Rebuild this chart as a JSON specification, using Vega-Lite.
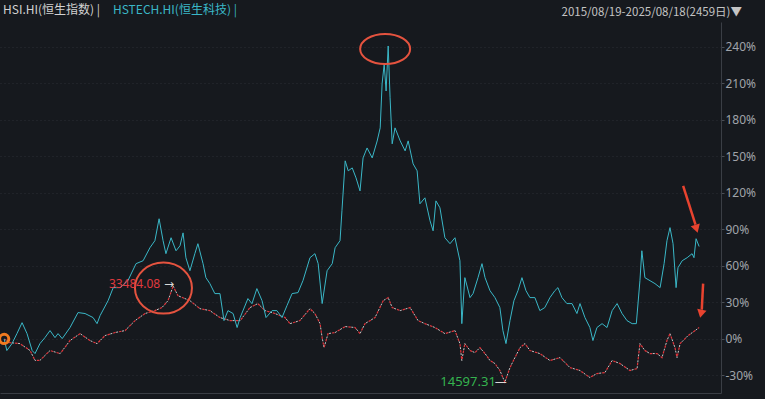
{
  "$schema": "https://vega.github.io/schema/vega-lite/v6.json",
  "width": 721,
  "height": 371,
  "autosize": {"type": "none"},
  "padding": {"left": 0, "top": 22, "right": 44, "bottom": 6},
  "background": "#16191e",
  "config": {"view": {"stroke": null}, "font": "Noto Sans CJK SC"},
  "title": {"text": "2015/08/19-2025/08/18(2459日)▼", "anchor": "end", "frame": "group", "color": "#c4c4c4", "fontSize": 11.5, "fontWeight": "normal", "font": "Noto Sans CJK SC", "dx": 21, "offset": 0, "dy": 14},
  "data": {"values": [
    {"date":"2015-08-19","series":"HSI","pct":0},{"date":"2015-09-18","series":"HSI","pct":-3.0},{"date":"2015-11-10","series":"HSI","pct":-3.8},{"date":"2016-01-02","series":"HSI","pct":-9.5},{"date":"2016-01-28","series":"HSI","pct":-17.6},{"date":"2016-02-23","series":"HSI","pct":-17.6},{"date":"2016-04-16","series":"HSI","pct":-9.5},{"date":"2016-06-08","series":"HSI","pct":-12.0},{"date":"2016-07-30","series":"HSI","pct":-1.3},{"date":"2016-09-21","series":"HSI","pct":4.4},{"date":"2016-11-12","series":"HSI","pct":-1.3},{"date":"2016-12-19","series":"HSI","pct":-3.8},{"date":"2017-01-30","series":"HSI","pct":2.8},{"date":"2017-03-24","series":"HSI","pct":5.3},{"date":"2017-05-15","series":"HSI","pct":6.9},{"date":"2017-07-07","series":"HSI","pct":15.1},{"date":"2017-08-28","series":"HSI","pct":20.9},{"date":"2017-10-19","series":"HSI","pct":23.3},{"date":"2017-11-25","series":"HSI","pct":25.8},{"date":"2017-12-27","series":"HSI","pct":31.5},{"date":"2018-01-23","series":"HSI","pct":43.5},{"date":"2018-02-17","series":"HSI","pct":35.6},{"date":"2018-04-21","series":"HSI","pct":31.5},{"date":"2018-06-13","series":"HSI","pct":24.9},{"date":"2018-08-04","series":"HSI","pct":23.3},{"date":"2018-09-26","series":"HSI","pct":17.6},{"date":"2018-11-18","series":"HSI","pct":15.1},{"date":"2019-01-10","series":"HSI","pct":15.1},{"date":"2019-03-03","series":"HSI","pct":25.8},{"date":"2019-04-13","series":"HSI","pct":29.1},{"date":"2019-05-21","series":"HSI","pct":23.3},{"date":"2019-07-12","series":"HSI","pct":20.9},{"date":"2019-09-03","series":"HSI","pct":17.6},{"date":"2019-09-29","series":"HSI","pct":12.6},{"date":"2019-11-20","series":"HSI","pct":15.1},{"date":"2020-01-12","series":"HSI","pct":24.9},{"date":"2020-02-07","series":"HSI","pct":20.9},{"date":"2020-03-05","series":"HSI","pct":12.6},{"date":"2020-03-16","series":"HSI","pct":1.1},{"date":"2020-03-26","series":"HSI","pct":-7.1},{"date":"2020-04-16","series":"HSI","pct":4.4},{"date":"2020-05-23","series":"HSI","pct":5.3},{"date":"2020-07-15","series":"HSI","pct":10.2},{"date":"2020-09-05","series":"HSI","pct":9.4},{"date":"2020-10-01","series":"HSI","pct":4.4},{"date":"2020-10-27","series":"HSI","pct":12.6},{"date":"2020-12-19","series":"HSI","pct":17.6},{"date":"2021-01-31","series":"HSI","pct":31.5},{"date":"2021-02-26","series":"HSI","pct":34.0},{"date":"2021-03-19","series":"HSI","pct":25.8},{"date":"2021-04-30","series":"HSI","pct":23.3},{"date":"2021-06-21","series":"HSI","pct":25.8},{"date":"2021-08-02","series":"HSI","pct":15.1},{"date":"2021-09-07","series":"HSI","pct":12.6},{"date":"2021-10-30","series":"HSI","pct":9.4},{"date":"2021-12-21","series":"HSI","pct":4.4},{"date":"2022-02-12","series":"HSI","pct":6.9},{"date":"2022-03-10","series":"HSI","pct":-3.8},{"date":"2022-03-20","series":"HSI","pct":-17.7},{"date":"2022-04-05","series":"HSI","pct":-3.8},{"date":"2022-05-02","series":"HSI","pct":-9.5},{"date":"2022-05-28","series":"HSI","pct":-11.2},{"date":"2022-06-23","series":"HSI","pct":-7.1},{"date":"2022-07-20","series":"HSI","pct":-12.0},{"date":"2022-08-15","series":"HSI","pct":-17.7},{"date":"2022-09-10","series":"HSI","pct":-20.2},{"date":"2022-10-06","series":"HSI","pct":-25.9},{"date":"2022-11-01","series":"HSI","pct":-35.5},{"date":"2022-11-28","series":"HSI","pct":-23.5},{"date":"2022-12-24","series":"HSI","pct":-15.3},{"date":"2023-01-20","series":"HSI","pct":-7.1},{"date":"2023-02-15","series":"HSI","pct":-3.8},{"date":"2023-03-13","series":"HSI","pct":-9.5},{"date":"2023-05-04","series":"HSI","pct":-12.0},{"date":"2023-06-26","series":"HSI","pct":-17.7},{"date":"2023-08-18","series":"HSI","pct":-15.3},{"date":"2023-10-09","series":"HSI","pct":-23.5},{"date":"2023-12-01","series":"HSI","pct":-25.9},{"date":"2024-01-22","series":"HSI","pct":-31.7},{"date":"2024-02-28","series":"HSI","pct":-28.4},{"date":"2024-04-10","series":"HSI","pct":-27.6},{"date":"2024-05-18","series":"HSI","pct":-17.7},{"date":"2024-06-28","series":"HSI","pct":-20.2},{"date":"2024-08-20","series":"HSI","pct":-25.9},{"date":"2024-09-26","series":"HSI","pct":-24.3},{"date":"2024-10-11","series":"HSI","pct":-3.8},{"date":"2024-11-06","series":"HSI","pct":-9.5},{"date":"2024-12-03","series":"HSI","pct":-12.0},{"date":"2025-01-09","series":"HSI","pct":-12.0},{"date":"2025-02-04","series":"HSI","pct":-15.3},{"date":"2025-03-02","series":"HSI","pct":-1.3},{"date":"2025-03-18","series":"HSI","pct":4.4},{"date":"2025-04-13","series":"HSI","pct":-7.1},{"date":"2025-04-24","series":"HSI","pct":-15.3},{"date":"2025-05-10","series":"HSI","pct":-3.8},{"date":"2025-06-21","series":"HSI","pct":2.8},{"date":"2025-07-28","series":"HSI","pct":6.9},{"date":"2025-08-18","series":"HSI","pct":9.4},
    {"date":"2015-08-19","series":"HSTECH","pct":0},{"date":"2015-09-02","series":"HSTECH","pct":-9.5},{"date":"2015-09-29","series":"HSTECH","pct":-3.8},{"date":"2015-10-25","series":"HSTECH","pct":4.4},{"date":"2015-11-21","series":"HSTECH","pct":13.4},{"date":"2015-12-17","series":"HSTECH","pct":4.4},{"date":"2016-01-13","series":"HSTECH","pct":-9.5},{"date":"2016-01-28","series":"HSTECH","pct":-12.0},{"date":"2016-02-23","series":"HSTECH","pct":-3.8},{"date":"2016-03-20","series":"HSTECH","pct":1.1},{"date":"2016-04-16","series":"HSTECH","pct":6.9},{"date":"2016-05-12","series":"HSTECH","pct":1.1},{"date":"2016-05-28","series":"HSTECH","pct":4.4},{"date":"2016-06-19","series":"HSTECH","pct":0.3},{"date":"2016-07-30","series":"HSTECH","pct":9.4},{"date":"2016-09-10","series":"HSTECH","pct":21.7},{"date":"2016-10-17","series":"HSTECH","pct":20.9},{"date":"2016-11-28","series":"HSTECH","pct":17.6},{"date":"2016-12-19","series":"HSTECH","pct":12.6},{"date":"2017-01-04","series":"HSTECH","pct":19.2},{"date":"2017-02-15","series":"HSTECH","pct":31.5},{"date":"2017-03-14","series":"HSTECH","pct":42.2},{"date":"2017-04-19","series":"HSTECH","pct":42.2},{"date":"2017-05-30","series":"HSTECH","pct":47.9},{"date":"2017-07-12","series":"HSTECH","pct":61.9},{"date":"2017-08-18","series":"HSTECH","pct":64.3},{"date":"2017-09-23","series":"HSTECH","pct":75.0},{"date":"2017-10-19","series":"HSTECH","pct":80.8},{"date":"2017-11-10","series":"HSTECH","pct":98.8},{"date":"2017-12-01","series":"HSTECH","pct":80.8},{"date":"2017-12-16","series":"HSTECH","pct":70.1},{"date":"2018-01-12","series":"HSTECH","pct":83.2},{"date":"2018-02-07","series":"HSTECH","pct":72.5},{"date":"2018-02-28","series":"HSTECH","pct":76.6},{"date":"2018-03-16","series":"HSTECH","pct":87.2},{"date":"2018-03-31","series":"HSTECH","pct":66.7},{"date":"2018-04-21","series":"HSTECH","pct":56.1},{"date":"2018-05-17","series":"HSTECH","pct":70.1},{"date":"2018-06-02","series":"HSTECH","pct":78.3},{"date":"2018-06-29","series":"HSTECH","pct":61.9},{"date":"2018-07-14","series":"HSTECH","pct":50.4},{"date":"2018-08-04","series":"HSTECH","pct":45.5},{"date":"2018-08-30","series":"HSTECH","pct":37.3},{"date":"2018-09-26","series":"HSTECH","pct":37.3},{"date":"2018-10-17","series":"HSTECH","pct":15.1},{"date":"2018-11-07","series":"HSTECH","pct":23.3},{"date":"2018-12-04","series":"HSTECH","pct":20.9},{"date":"2018-12-25","series":"HSTECH","pct":9.4},{"date":"2019-01-10","series":"HSTECH","pct":17.6},{"date":"2019-02-20","series":"HSTECH","pct":33.2},{"date":"2019-03-13","series":"HSTECH","pct":29.0},{"date":"2019-04-08","series":"HSTECH","pct":41.4},{"date":"2019-05-05","series":"HSTECH","pct":31.5},{"date":"2019-05-26","series":"HSTECH","pct":17.6},{"date":"2019-06-27","series":"HSTECH","pct":23.3},{"date":"2019-07-22","series":"HSTECH","pct":23.3},{"date":"2019-08-18","series":"HSTECH","pct":17.6},{"date":"2019-09-13","series":"HSTECH","pct":27.4},{"date":"2019-10-10","series":"HSTECH","pct":37.3},{"date":"2019-11-10","series":"HSTECH","pct":38.1},{"date":"2019-12-06","series":"HSTECH","pct":47.9},{"date":"2020-01-12","series":"HSTECH","pct":66.8},{"date":"2020-02-07","series":"HSTECH","pct":70.1},{"date":"2020-02-24","series":"HSTECH","pct":61.9},{"date":"2020-03-16","series":"HSTECH","pct":29.1},{"date":"2020-04-11","series":"HSTECH","pct":56.1},{"date":"2020-05-08","series":"HSTECH","pct":61.9},{"date":"2020-05-23","series":"HSTECH","pct":75.0},{"date":"2020-06-18","series":"HSTECH","pct":80.8},{"date":"2020-06-28","series":"HSTECH","pct":105.4},{"date":"2020-07-15","series":"HSTECH","pct":146.4},{"date":"2020-07-31","series":"HSTECH","pct":138.2},{"date":"2020-08-21","series":"HSTECH","pct":140.6},{"date":"2020-09-10","series":"HSTECH","pct":132.4},{"date":"2020-10-01","series":"HSTECH","pct":121.7},{"date":"2020-10-17","series":"HSTECH","pct":148.8},{"date":"2020-11-07","series":"HSTECH","pct":157.0},{"date":"2020-12-04","series":"HSTECH","pct":148.8},{"date":"2020-12-30","series":"HSTECH","pct":162.7},{"date":"2021-01-15","series":"HSTECH","pct":173.5},{"date":"2021-01-25","series":"HSTECH","pct":209.6},{"date":"2021-02-05","series":"HSTECH","pct":226.0},{"date":"2021-02-15","series":"HSTECH","pct":203.8},{"date":"2021-02-26","series":"HSTECH","pct":240.8},{"date":"2021-03-08","series":"HSTECH","pct":198.2},{"date":"2021-03-19","series":"HSTECH","pct":160.4},{"date":"2021-04-03","series":"HSTECH","pct":173.5},{"date":"2021-04-30","series":"HSTECH","pct":162.8},{"date":"2021-05-26","series":"HSTECH","pct":154.6},{"date":"2021-06-11","series":"HSTECH","pct":162.8},{"date":"2021-07-07","series":"HSTECH","pct":143.9},{"date":"2021-07-28","series":"HSTECH","pct":138.2},{"date":"2021-08-12","series":"HSTECH","pct":111.1},{"date":"2021-09-07","series":"HSTECH","pct":116.0},{"date":"2021-10-04","series":"HSTECH","pct":97.1},{"date":"2021-10-20","series":"HSTECH","pct":88.9},{"date":"2021-11-04","series":"HSTECH","pct":113.5},{"date":"2021-11-25","series":"HSTECH","pct":107.8},{"date":"2021-12-21","series":"HSTECH","pct":83.2},{"date":"2022-01-17","series":"HSTECH","pct":78.3},{"date":"2022-02-12","series":"HSTECH","pct":83.2},{"date":"2022-03-10","series":"HSTECH","pct":64.3},{"date":"2022-03-20","series":"HSTECH","pct":12.6},{"date":"2022-04-05","series":"HSTECH","pct":50.4},{"date":"2022-05-02","series":"HSTECH","pct":34.0},{"date":"2022-05-18","series":"HSTECH","pct":37.3},{"date":"2022-06-13","series":"HSTECH","pct":50.4},{"date":"2022-07-04","series":"HSTECH","pct":61.9},{"date":"2022-07-20","series":"HSTECH","pct":50.4},{"date":"2022-08-15","series":"HSTECH","pct":39.7},{"date":"2022-09-10","series":"HSTECH","pct":34.0},{"date":"2022-10-06","series":"HSTECH","pct":25.8},{"date":"2022-10-22","series":"HSTECH","pct":6.9},{"date":"2022-11-07","series":"HSTECH","pct":-3.8},{"date":"2022-11-28","series":"HSTECH","pct":15.1},{"date":"2022-12-19","series":"HSTECH","pct":31.5},{"date":"2023-01-09","series":"HSTECH","pct":39.7},{"date":"2023-01-30","series":"HSTECH","pct":50.4},{"date":"2023-02-20","series":"HSTECH","pct":39.7},{"date":"2023-03-13","series":"HSTECH","pct":34.0},{"date":"2023-04-08","series":"HSTECH","pct":34.0},{"date":"2023-05-04","series":"HSTECH","pct":23.3},{"date":"2023-05-30","series":"HSTECH","pct":25.8},{"date":"2023-06-26","series":"HSTECH","pct":34.0},{"date":"2023-07-22","series":"HSTECH","pct":39.7},{"date":"2023-08-07","series":"HSTECH","pct":42.2},{"date":"2023-08-28","series":"HSTECH","pct":34.0},{"date":"2023-09-23","series":"HSTECH","pct":29.1},{"date":"2023-10-20","series":"HSTECH","pct":29.1},{"date":"2023-11-15","series":"HSTECH","pct":20.9},{"date":"2023-12-01","series":"HSTECH","pct":29.1},{"date":"2023-12-27","series":"HSTECH","pct":17.6},{"date":"2024-01-22","series":"HSTECH","pct":9.4},{"date":"2024-02-07","series":"HSTECH","pct":-1.3},{"date":"2024-02-28","series":"HSTECH","pct":9.4},{"date":"2024-03-26","series":"HSTECH","pct":12.6},{"date":"2024-04-21","series":"HSTECH","pct":9.4},{"date":"2024-05-18","series":"HSTECH","pct":23.3},{"date":"2024-06-13","series":"HSTECH","pct":29.1},{"date":"2024-07-09","series":"HSTECH","pct":20.9},{"date":"2024-08-04","series":"HSTECH","pct":15.1},{"date":"2024-08-31","series":"HSTECH","pct":12.6},{"date":"2024-09-22","series":"HSTECH","pct":12.6},{"date":"2024-10-11","series":"HSTECH","pct":47.9},{"date":"2024-10-21","series":"HSTECH","pct":72.5},{"date":"2024-11-06","series":"HSTECH","pct":50.4},{"date":"2024-12-03","series":"HSTECH","pct":47.9},{"date":"2024-12-29","series":"HSTECH","pct":45.5},{"date":"2025-01-25","series":"HSTECH","pct":42.2},{"date":"2025-02-15","series":"HSTECH","pct":61.9},{"date":"2025-03-02","series":"HSTECH","pct":80.8},{"date":"2025-03-18","series":"HSTECH","pct":91.5},{"date":"2025-04-03","series":"HSTECH","pct":78.3},{"date":"2025-04-19","series":"HSTECH","pct":42.2},{"date":"2025-04-29","series":"HSTECH","pct":58.6},{"date":"2025-05-21","series":"HSTECH","pct":64.3},{"date":"2025-06-16","series":"HSTECH","pct":66.8},{"date":"2025-07-12","series":"HSTECH","pct":70.1},{"date":"2025-07-22","series":"HSTECH","pct":66.8},{"date":"2025-08-02","series":"HSTECH","pct":82.4},{"date":"2025-08-18","series":"HSTECH","pct":76.0}
  ]},
  "encoding": {
    "x": {"field": "date", "type": "temporal", "scale": {"domain": ["2015-07-28", "2025-12-11"]}, "axis": {"orient": "bottom", "labels": false, "ticks": false, "grid": false, "title": null, "domainColor": "#3a3e45", "domainWidth": 1}},
    "y": {"field": "pct", "type": "quantitative", "scale": {"domain": [-44.4, 260.5], "nice": false, "zero": false}, "axis": {"orient": "right", "title": null, "values": [-30, 0, 30, 60, 90, 120, 150, 180, 210, 240], "labelExpr": "datum.value + '%'", "labelColor": "#a0a4aa", "labelFont": "Noto Sans", "labelFontSize": 12, "labelPadding": 1, "tickSize": 3, "tickColor": "#4a4e55", "domainColor": "#3a3e45", "grid": true, "gridColor": "#2a2e35", "gridDash": [1, 3]}}
  },
  "layer": [
    {
      "transform": [{"filter": "datum.series == 'HSI'"}],
      "mark": {"type": "line", "strokeWidth": 1, "strokeDash": [2, 4], "strokeDashOffset": 3},
      "encoding": {"color": {"field": "series", "type": "nominal", "scale": {"domain": ["HSI", "HSTECH"], "range": ["#c9c9c9", "#3ab7c7"]},
        "legend": {"orient": "none", "legendX": -9, "legendY": -18, "direction": "horizontal", "title": null, "symbolSize": 0, "symbolStrokeWidth": 0, "symbolOpacity": 0, "labelOffset": 0, "symbolOffset": 0, "columnPadding": -4, "labelFontSize": 12, "labelFont": "Noto Sans CJK SC", "labelLimit": 300,
          "labelExpr": "datum.value == 'HSI' ? 'HSI.HI(恒生指数) |' : 'HSTECH.HI(恒生科技) |'",
          "encode": {"labels": {"update": {"fill": {"signal": "datum.value == 'HSI' ? '#d2d2d2' : '#3ab7c7'"}}}}}}}
    },
    {
      "transform": [{"filter": "datum.series == 'HSI'"}],
      "mark": {"type": "line", "strokeWidth": 1.2, "color": "#e0353b", "strokeDash": [2.5, 3.5]},
      "encoding": {}
    },
    {
      "transform": [{"filter": "datum.series == 'HSTECH'"}],
      "mark": {"type": "line", "strokeWidth": 1},
      "encoding": {"color": {"field": "series", "type": "nominal"}}
    },
    {
      "data": {"values": [{"date": "2017-12-03", "pct": 41.8}]},
      "mark": {"type": "point", "shape": "M-1,0 A1,0.895 0 1,0 1,0 A1,0.895 0 1,0 -1,0 Z", "size": 3249, "filled": false, "color": "#e5533f", "strokeWidth": 2, "opacity": 1}
    },
    {
      "data": {"values": [{"date": "2021-02-10", "pct": 238.3}]},
      "mark": {"type": "point", "shape": "M-1,0 A1,0.6 0 1,0 1,0 A1,0.6 0 1,0 -1,0 Z", "size": 2500, "filled": false, "color": "#e5533f", "strokeWidth": 2, "opacity": 1}
    },
    {
      "data": {"values": [{"date": "2015-08-19", "pct": 0}]},
      "mark": {"type": "point", "shape": "circle", "size": 85, "filled": false, "color": "#f07a20", "strokeWidth": 3, "opacity": 1}
    },
    {
      "data": {"values": [{"date": "2025-05-26", "pct": 125.9, "date2": "2025-07-30", "pct2": 93.9}, {"date": "2025-09-08", "pct": 45.5, "date2": "2025-09-01", "pct2": 24.1}]},
      "mark": {"type": "rule", "color": "#e8432f", "strokeWidth": 2.5},
      "encoding": {"x2": {"field": "date2"}, "y2": {"field": "pct2"}}
    },
    {
      "data": {"values": [{"date": "2025-08-04", "pct": 90.6}]},
      "mark": {"type": "point", "shape": "triangle-down", "size": 90, "filled": true, "color": "#e8432f", "angle": -17, "opacity": 1}
    },
    {
      "data": {"values": [{"date": "2025-08-28", "pct": 20.8}]},
      "mark": {"type": "point", "shape": "triangle-down", "size": 90, "filled": true, "color": "#e8432f", "angle": 12, "opacity": 1}
    },
    {
      "data": {"values": [{"date": "2018-01-23", "pct": 45.5, "label": "33484.08"}]},
      "mark": {"type": "text", "align": "right", "baseline": "middle", "dx": -13, "color": "#e0393e", "fontSize": 12, "font": "Noto Sans"},
      "encoding": {"text": {"field": "label"}}
    },
    {
      "data": {"values": [{"date": "2018-01-23", "pct": 45.5, "label": "→"}]},
      "mark": {"type": "text", "align": "right", "baseline": "middle", "dx": 1, "color": "#d8d8d8", "fontSize": 12, "font": "DejaVu Sans"},
      "encoding": {"text": {"field": "label"}}
    },
    {
      "data": {"values": [{"date": "2022-11-01", "pct": -35.5, "label": "14597.31"}]},
      "mark": {"type": "text", "align": "right", "baseline": "middle", "dx": -9, "color": "#35b34f", "fontSize": 13, "font": "Noto Sans"},
      "encoding": {"text": {"field": "label"}}
    },
    {
      "data": {"values": [{"date": "2022-11-01", "pct": -35.5, "label": "—"}]},
      "mark": {"type": "text", "align": "right", "baseline": "middle", "dx": 2, "color": "#d8d8d8", "fontSize": 12, "font": "DejaVu Sans"},
      "encoding": {"text": {"field": "label"}}
    }
  ]
}
